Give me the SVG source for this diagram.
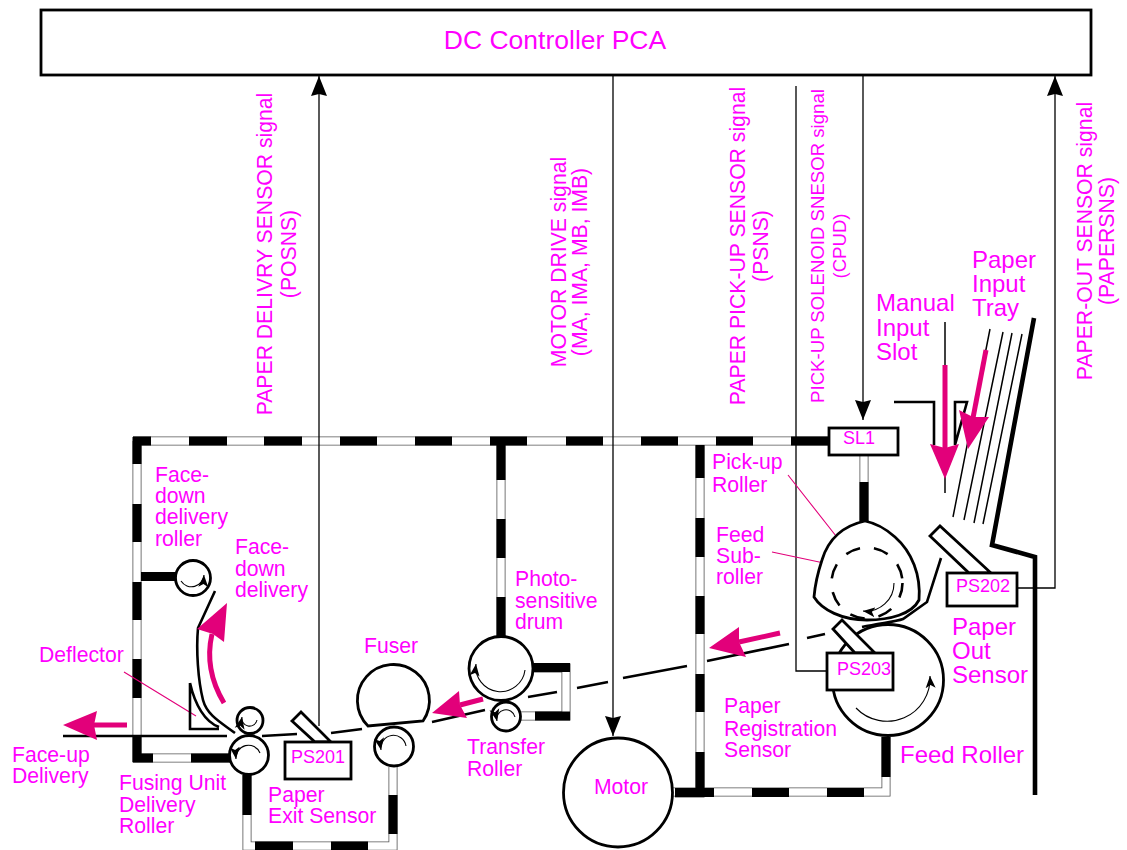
<svg xmlns="http://www.w3.org/2000/svg" width="1127" height="850" viewBox="0 0 1127 850">
<style>
text{font-family:"Liberation Sans",Arial,sans-serif;fill:#ff00ff}
.t20{font-size:21.2px}.t24{font-size:24px}.t26{font-size:26.500px}.t18{font-size:18px}.t19{font-size:21.2px}.t17{font-size:18.600px}
.mid{text-anchor:middle}
.wo{fill:none;stroke:#555;stroke-width:9}
.wi{fill:none;stroke:#fff;stroke-width:7.400}
.wb{fill:none;stroke:#000;stroke-width:9}
.obj{fill:#fff;stroke:#000;stroke-width:2.800}
.ln{fill:none;stroke:#000;stroke-width:2.600}
.sig{fill:none;stroke:#000;stroke-width:1.300}
.thin{fill:none;stroke:#000;stroke-width:1.500}
.rot{fill:none;stroke:#000;stroke-width:1.100;marker-end:url(#rh)}
.pink{fill:#e2007a;stroke:none}
.ps{fill:none;stroke:#e2007a;stroke-width:5}
.lead{fill:none;stroke:#e2007a;stroke-width:1.100}
</style>
<defs>
<marker id="rh" markerUnits="userSpaceOnUse" markerWidth="13" markerHeight="11" refX="12" refY="5.500" orient="auto"><path d="M0,0.500L12,5.500L0,10.500L3,5.500z" fill="#000"/></marker>
<marker id="sh" markerUnits="userSpaceOnUse" markerWidth="21" markerHeight="17" refX="20" refY="8.500" orient="auto"><path d="M0,0.500L20,8.500L0,16.500L2,8.500z" fill="#000"/></marker>
</defs>
<g id="walls">
<path class="wo" d="M133,441H829M137,441V758H232M501,445V637M533,668H566V716H520M247,775V846H393V767M700,445V793H675M673,792H886V737M864,456V521"/>
<path class="wi" d="M133,441H829M137,441V758H232M501,445V637M533,668H566V716H520M247,775V846H393V767M700,445V793H675M673,792H886V737M864,456V521"/>
<path class="wb" d="M133,441H151M189,441H227M264,441H302M340,441H377M415,441H452M490,441H527M566,441H603M641,441H678M716,441H753M791,441H829"/>
<path class="wb" d="M137,437V464M137,504V542M137,582V620M137,659V698M137,737V762M133,758H153M191,758H230"/>
<path class="wb" d="M501,445V480M501,519V558M501,597V637"/>
<path class="wb" d="M533,667.500H570M535,716H570"/>
<path class="wb" d="M247,775V815M255,846H293M331,846H368M393,795V834"/>
<path class="wb" d="M700,445V478M700,518V557M700,596V634M700,674V712M700,752V797M675,792.500H714M752,792.500H789M827,792.500H864M886,737V777"/>
<path class="wb" d="M864,482V522"/>
<path class="wb" d="M141,576.500H176"/>
</g>
<g id="chassis-guides">
<path d="M1034,318L992,545L1035,557V795" fill="none" stroke="#000" stroke-width="4.600"/>
<path class="ln" d="M894,402H934V445M955,445V402H967L955,445"/>
<path class="thin" d="M990,329L953,517M1003,332L964,520M1012,333L974,523M1022,334L983,524"/>
</g>
<g id="connectors">
<path class="sig" d="M319,726V76" marker-end="url(#sh)"/>
<path class="sig" d="M613,76V736" marker-end="url(#sh)"/>
<path class="sig" d="M827,671H796V86"/>
<path class="sig" d="M863,76V420" marker-end="url(#sh)"/>
<path class="sig" d="M1017,588H1055V76" marker-end="url(#sh)"/>
<path class="thin" d="M945,322V493"/>
<path class="ln" d="M63,736H227M262,736L297,734M331,733L362,729M432,722L485,710M528,697L557,692M577,688L608,682M623,678L687,666M707,661L789,644M807,638L825,634"/>
<path class="ln" d="M862,627C880,623 895,622 903,619L927,602L941,558"/>
<path class="ln" d="M215,591L198,628C196,650 198,680 203,700C207,715 220,722 235,733"/>
<path class="lead" d="M124,672L196,716M788,475L836,536M772,552L838,566"/>
</g>
<g id="deflector"><path class="ln" d="M190,683V729H219M219,727C205,722 195,705 190,683"/></g>
<g id="roller-facedown"><circle class="obj" cx="193" cy="578" r="17.500"/><path class="rot" d="M181,581A12.500,12.500 0 0 0 204,575"/></g>
<g id="roller-upper"><circle class="obj" cx="250" cy="720.500" r="13"/><path class="rot" d="M257,720A7.500,7.500 0 0 1 242,717"/></g>
<g id="roller-fusing"><circle class="obj" cx="249" cy="755" r="19.500"/><path class="rot" d="M260,753A12.500,12.500 0 0 0 236,759"/></g>
<g id="fuser"><path class="obj" d="M368,726A36,36 0 1 1 423,721z"/></g>
<g id="roller-fuser"><circle class="obj" cx="394" cy="746.500" r="19.500"/><path class="rot" d="M406,746A12.500,12.500 0 0 0 381,750"/></g>
<g id="drum"><circle class="obj" cx="501" cy="668.500" r="32"/><path class="rot" d="M525,670A24,24 0 0 1 476,664"/></g>
<g id="roller-transfer"><circle class="obj" cx="506" cy="716.500" r="14.500"/><path class="rot" d="M515,717A9,9 0 0 0 497,721"/></g>
<g id="motor"><circle class="obj" cx="618" cy="792.500" r="54.500"/><text class="t20 mid" x="621" y="794">Motor</text></g>
<g id="feed-roller"><circle class="obj" cx="888" cy="680" r="55.500"/><path class="rot" d="M856,708A43,43 0 0 0 930,676"/></g>
<g id="pickup-roller">
<path class="obj" d="M865,521C842,526 828,540 822,560C817,575 815,585 814,597C822,610 842,620 867,620C890,620 912,614 919,600C921,575 912,552 895,537C885,528 875,523 865,521z"/>
<circle cx="867" cy="583" r="35.500" fill="none" stroke="#000" stroke-width="2.600" stroke-dasharray="15 14"/>
<path class="rot" d="M894,583A28,28 0 0 1 863,611"/>
</g>
<g id="ps201"><path class="obj" d="M292,721L301,712L331,742H315z"/><rect class="obj" x="285" y="742" width="66" height="37"/><text class="t18 mid" x="318" y="763">PS201</text></g>
<g id="ps203"><path class="obj" d="M833,629L842,620L875,653H855z"/><rect class="obj" x="827" y="653" width="66" height="37"/><text class="t18 mid" x="864" y="675">PS203</text></g>
<g id="ps202"><path class="obj" d="M930,536L940,526L991,573H969z"/><rect class="obj" x="947" y="573" width="70" height="33"/><text class="t18 mid" x="983" y="592">PS202</text></g>
<g id="sl1"><rect class="obj" x="829" y="428" width="69" height="27"/><text class="t18 mid" x="859" y="444">SL1</text></g>
<g id="controller"><rect x="41" y="10" width="1050" height="65" fill="#fff" stroke="#000" stroke-width="2.800"/><text class="t26 mid" x="555" y="49">DC Controller PCA</text></g>
<g id="paper-arrows">
<path class="ps" d="M94,725H127"/><path class="pink" d="M63,725L97,711L94,725L97,740z"/>
<path class="ps" d="M224,703C212,683 206,660 212,634"/><path class="pink" d="M227,603L197,629L213,634L224,642z"/>
<path class="ps" d="M483,699L460,705"/><path class="pink" d="M432,713L459,691L460,705L467,718z"/>
<path class="ps" d="M780,633L739,642"/><path class="pink" d="M709,648L739,627L739,642L746,657z"/>
<path class="ps" d="M945,365V448"/><path class="pink" d="M945,479L930,444L945,448L959,444z"/>
<path class="ps" d="M986,350L973,418"/><path class="pink" d="M968,449L959,410L973,417L989,417z"/>
</g>
<g id="labels">
<text class="t20"><tspan x="155" y="482">Face-</tspan><tspan x="155" y="503">down</tspan><tspan x="155" y="524">delivery</tspan><tspan x="155" y="546">roller</tspan></text>
<text class="t20"><tspan x="235" y="554">Face-</tspan><tspan x="235" y="576">down</tspan><tspan x="235" y="597">delivery</tspan></text>
<text class="t20" x="39" y="662">Deflector</text>
<text class="t20"><tspan x="12" y="762">Face-up</tspan><tspan x="12" y="783">Delivery</tspan></text>
<text class="t20"><tspan x="119" y="790">Fusing Unit</tspan><tspan x="119" y="812">Delivery</tspan><tspan x="119" y="833">Roller</tspan></text>
<text class="t20"><tspan x="268" y="802">Paper</tspan><tspan x="268" y="823">Exit Sensor</tspan></text>
<text class="t20" x="364" y="653">Fuser</text>
<text class="t20"><tspan x="515" y="586">Photo-</tspan><tspan x="515" y="608">sensitive</tspan><tspan x="515" y="629">drum</tspan></text>
<text class="t20"><tspan x="467" y="754">Transfer</tspan><tspan x="467" y="776">Roller</tspan></text>
<text class="t20"><tspan x="712" y="469">Pick-up</tspan><tspan x="712" y="492">Roller</tspan></text>
<text class="t20"><tspan x="716" y="542">Feed</tspan><tspan x="716" y="563">Sub-</tspan><tspan x="716" y="584">roller</tspan></text>
<text class="t20"><tspan x="724" y="713">Paper</tspan><tspan x="724" y="736">Registration</tspan><tspan x="724" y="757">Sensor</tspan></text>
<text class="t24"><tspan x="952" y="635">Paper</tspan><tspan x="952" y="659">Out</tspan><tspan x="952" y="683">Sensor</tspan></text>
<text class="t24" x="900" y="763">Feed Roller</text>
<text class="t24"><tspan x="876" y="311">Manual</tspan><tspan x="876" y="336">Input</tspan><tspan x="876" y="360">Slot</tspan></text>
<text class="t24"><tspan x="972" y="268">Paper</tspan><tspan x="972" y="292">Input</tspan><tspan x="972" y="316">Tray</tspan></text>
<text class="t19 mid" transform="translate(272,254) rotate(-90)">PAPER DELIVRY SENSOR signal</text>
<text class="t19 mid" transform="translate(296,254) rotate(-90)">(POSNS)</text>
<text class="t19 mid" transform="translate(566,262) rotate(-90)">MOTOR DRIVE signal</text>
<text class="t19 mid" transform="translate(587,262) rotate(-90)">(MA, IMA, MB, IMB)</text>
<text class="t19 mid" transform="translate(745,246) rotate(-90)">PAPER PICK-UP SENSOR signal</text>
<text class="t19 mid" transform="translate(768,246) rotate(-90)">(PSNS)</text>
<text class="t17 mid" transform="translate(824,246) rotate(-90)">PICK-UP SOLENOID SNESOR signal</text>
<text class="t17 mid" transform="translate(846,246) rotate(-90)">(CPUD)</text>
<text class="t19 mid" transform="translate(1092,241) rotate(-90)">PAPER-OUT SENSOR signal</text>
<text class="t19 mid" transform="translate(1114,241) rotate(-90)">(PAPERSNS)</text>
</g>
</svg>
